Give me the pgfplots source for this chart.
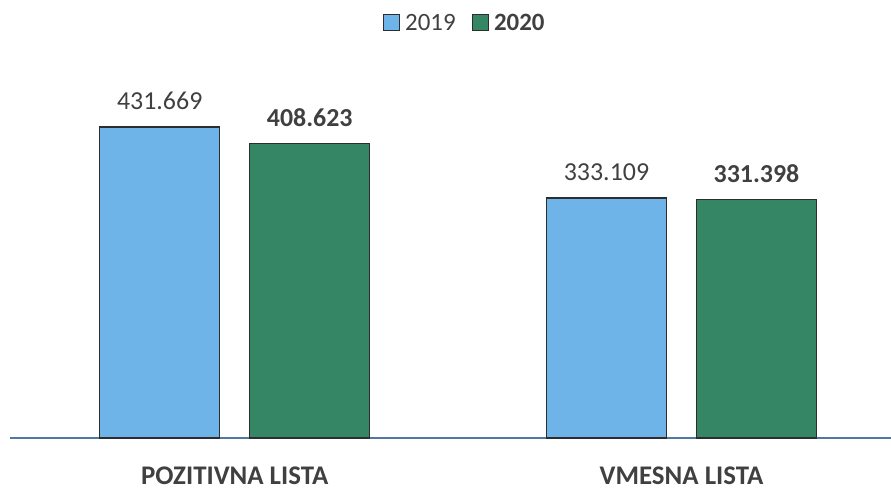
\documentclass[border=0pt]{standalone}
\usepackage{pgfplots}
\pgfplotsset{compat=1.18}
\usepackage{fontspec}
\setmainfont{Carlito}
\definecolor{cblue}{RGB}{110,180,232}
\definecolor{cgreen}{RGB}{52,134,100}
\definecolor{ctext}{RGB}{64,64,64}
\definecolor{cline}{RGB}{80,120,160}
\definecolor{cedge}{RGB}{45,45,45}
\begin{document}
\begin{tikzpicture}[x=1bp,y=1bp]
\useasboundingbox (0,0) rectangle (891,490);
\begin{axis}[
  at={(10bp,52bp)}, anchor=south west,
  scale only axis, width=881bp, height=378bp,
  xmin=-0.503, xmax=1.469, ymin=0, ymax=524.6,
  axis x line=bottom, axis y line=none,
  x axis line style={-, draw=cline, line width=1.2bp},
  ybar, bar width=120bp,
  xtick={0,1}, xticklabels={POZITIVNA LISTA, VMESNA LISTA},
  major tick length=0pt,
  xticklabel style={font=\fontsize{27}{32}\selectfont\bfseries, text=ctext, yshift=-25bp},
  point meta=explicit symbolic,
  nodes near coords={\pgfplotspointmeta},
  nodes near coords style={anchor=south, yshift=13bp, font=\fontsize{26}{30}\selectfont, text=ctext},
  legend style={at={(0.516,1)}, anchor=center, yshift=37bp, draw=none, fill=none,
    legend columns=2, font=\fontsize{25}{30}\selectfont, text=ctext,
    /tikz/every even column/.append style={column sep=14bp}},
  clip=false,
]
\addplot[fill=cblue, draw=cedge, line width=1.2bp, bar shift=-75bp,
  legend image code/.code={\path[draw=none,fill=none] (0bp,0bp) rectangle (20bp,1bp);\draw[fill=cblue, draw=cedge, line width=1bp] (0bp,-8bp) rectangle (16bp,8bp);}]
  coordinates {(0,431.669)[431.669] (1,333.109)[333.109]};
\addplot[fill=cgreen, draw=cedge, line width=1.2bp, bar shift=75bp,
  nodes near coords style={font=\fontsize{26}{30}\selectfont\bfseries},
  legend image code/.code={\path[draw=none,fill=none] (0bp,0bp) rectangle (20bp,1bp);\draw[fill=cgreen, draw=cedge, line width=1bp] (0bp,-8bp) rectangle (16bp,8bp);}]
  coordinates {(0,408.623)[408.623] (1,331.398)[331.398]};
\legend{2019, \textbf{2020}}
\end{axis}
\end{tikzpicture}
\end{document}
